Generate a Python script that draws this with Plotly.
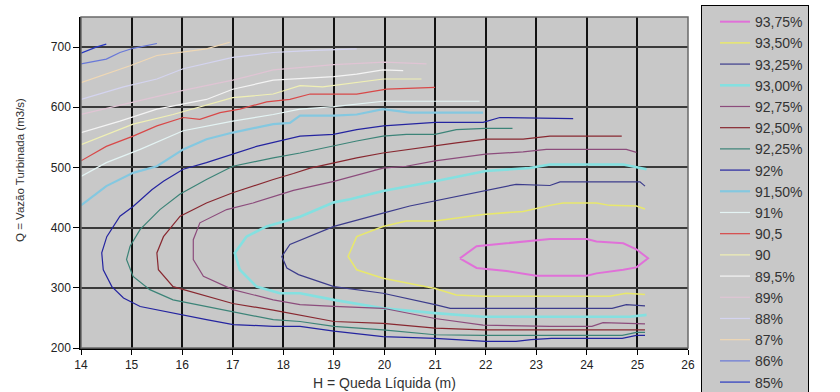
import plotly.graph_objects as go

# ---------------- data ----------------
levels = ["93,75%", "93,50%", "93,25%", "93,00%", "92,75%", "92,50%", "92,25%", "92%",
          "91,50%", "91%", "90,5", "90", "89,5%", "89%", "88%", "87%", "86%", "85%"]

h_9375 = [21.49, 21.82, 22.41, 23.27, 24.0, 24.19, 24.72, 24.98, 25.21, 24.98, 24.72, 24.19, 24.0, 23.0, 22.41, 21.82, 21.49]
q_9375 = [349, 369, 374, 381, 381, 377, 374, 364, 349, 334, 330, 324, 320, 320, 328, 333, 349]

h_9350 = [25.15, 24.98, 24.45, 24.19, 23.53, 23.27, 22.74, 21.95, 21.0, 20.43, 19.97, 19.45, 19.28, 19.45, 19.97, 21.0, 21.42, 21.95, 24.45, 24.78, 25.15]
q_9350 = [431, 436, 437, 441, 441, 437, 427, 422, 411, 411, 402, 385, 352, 330, 316, 299, 288, 286, 286, 291, 289]

h_9325 = [25.15, 25.05, 23.47, 23.27, 22.6, 21.95, 21.1, 20.5, 19.97, 19.0, 18.13, 17.97, 18.07, 18.3, 19.0, 19.97, 21.0, 21.3, 24.5, 24.78, 25.15]
q_9325 = [469, 476, 476, 470, 472, 461, 447, 436, 424, 402, 372, 352, 333, 322, 302, 291, 272, 266, 266, 272, 270]

h_9300 = [25.18, 24.72, 23.27, 22.87, 22.0, 21.0, 19.97, 19.32, 19.0, 18.33, 17.67, 17.27, 17.04, 17.14, 17.47, 17.93, 18.33, 19.0, 19.97, 21.0, 21.95, 24.85, 25.18]
q_9300 = [497, 505, 505, 499, 494, 477, 461, 447, 442, 418, 402, 385, 358, 330, 302, 291, 291, 280, 266, 258, 252, 252, 255]

h_9275 = [24.98, 24.78, 23.2, 22.74, 22.0, 21.0, 20.43, 19.97, 19.0, 18.2, 17.4, 16.88, 16.35, 16.22, 16.22, 16.42, 17.0, 17.8, 18.33, 19.0, 19.97, 21.0, 21.95, 23.27, 24.1, 24.32, 25.15]
q_9275 = [525, 530, 530, 526, 522, 511, 502, 499, 477, 462, 441, 430, 408, 380, 347, 319, 297, 280, 272, 269, 266, 249, 238, 236, 236, 242, 240]

h_9250 = [24.69, 23.27, 22.74, 22.0, 21.42, 21.0, 19.97, 19.45, 19.0, 18.53, 18.2, 17.8, 17.0, 16.68, 16.48, 15.96, 15.63, 15.5, 15.53, 15.82, 16.48, 17.0, 17.8, 18.2, 19.0, 19.97, 21.0, 21.95, 25.15]
q_9250 = [552, 552, 547, 547, 541, 536, 524, 516, 508, 499, 490, 480, 458, 447, 441, 419, 385, 358, 330, 302, 286, 274, 263, 257, 244, 241, 233, 230, 230]

h_9225 = [22.53, 22.0, 21.42, 21.0, 20.43, 19.97, 19.45, 19.0, 18.33, 17.8, 17.0, 16.48, 15.96, 15.56, 15.17, 14.97, 14.9, 15.03, 15.36, 15.82, 16.48, 17.0, 17.8, 18.33, 19.0, 19.97, 21.0, 21.95, 24.7, 24.98, 25.15]
q_9225 = [565, 565, 563, 555, 555, 552, 544, 536, 524, 516, 502, 480, 456, 430, 397, 369, 347, 319, 297, 280, 269, 261, 247, 244, 236, 230, 222, 221, 221, 226, 226]

h_9200 = [23.73, 22.28, 21.95, 21.0, 19.98, 19.45, 18.99, 18.33, 17.47, 17.01, 16.48, 16.02, 15.63, 15.4, 15.03, 14.77, 14.51, 14.41, 14.44, 14.61, 14.84, 15.17, 15.96, 16.48, 17.01, 17.8, 18.33, 19.0, 19.97, 21.0, 22.0, 22.6, 22.9, 23.3, 24.7, 24.98, 25.15]
q_9200 = [581, 583, 575, 575, 569, 563, 555, 552, 535, 522, 508, 497, 477, 463, 435, 419, 385, 358, 330, 302, 283, 269, 255, 247, 239, 236, 236, 228, 219, 216, 211, 211, 214, 216, 216, 221, 221]

h_9150 = [14.0, 14.4, 14.5, 15.03, 15.5, 16.02, 16.48, 17.0, 17.8, 18.13, 18.33, 19.0, 19.45, 19.97, 20.5, 21.95]
q_9150 = [437, 463, 469, 491, 502, 530, 547, 558, 572, 574, 586, 586, 588, 597, 591, 591]

h_9100 = [14.0, 14.5, 15.17, 16.02, 17.0, 17.8, 18.33, 19.0, 19.97, 21.88]
q_9100 = [485, 508, 530, 561, 577, 588, 597, 601, 610, 610]

h_9050 = [14.0, 14.5, 15.03, 15.5, 16.02, 16.35, 16.75, 17.14, 17.67, 18.13, 18.53, 19.45, 20.04, 21.0]
q_9050 = [511, 535, 552, 569, 583, 580, 591, 597, 609, 613, 622, 622, 630, 633]

h_9000 = [14.0, 14.5, 15.03, 15.82, 17.0, 17.8, 18.33, 18.78, 19.45, 19.98, 20.73]
q_9000 = [538, 555, 572, 588, 616, 622, 636, 634, 641, 647, 647]

h_8950 = [14.0, 14.77, 15.5, 16.48, 17.0, 17.8, 19.0, 19.45, 19.97, 20.37]
q_8950 = [558, 577, 597, 613, 630, 645, 651, 655, 662, 661]

h_8900 = [14.0, 14.84, 16.02, 17.0, 17.8, 19.0, 20.0, 20.83]
q_8900 = [588, 605, 628, 645, 662, 671, 675, 672]

h_8800 = [14.0, 14.84, 15.5, 16.02, 17.0, 17.8, 18.5, 19.45]
q_8800 = [613, 634, 647, 664, 683, 691, 694, 697]

h_8700 = [14.0, 14.5, 14.97, 15.5, 15.96, 16.48, 16.94]
q_8700 = [641, 655, 669, 686, 691, 697, 708]

h_8600 = [14.0, 14.5, 14.77, 15.03, 15.5]
q_8600 = [672, 680, 691, 698, 706]

h_8500 = [14.0, 14.3, 14.5]
q_8500 = [690, 700, 705]

x_ticks = [14, 15, 16, 17, 18, 19, 20, 21, 22, 23, 24, 25, 26]
y_ticks = [200, 300, 400, 500, 600, 700]

# ---------------- styling ----------------
series = [
    (h_9375, q_9375, "#e070d8", 2.0),
    (h_9350, q_9350, "#e8e86c", 1.5),
    (h_9325, q_9325, "#3c3c8c", 1.2),
    (h_9300, q_9300, "#84e0e0", 2.6),
    (h_9275, q_9275, "#8c4c7c", 1.2),
    (h_9250, q_9250, "#882830", 1.2),
    (h_9225, q_9225, "#3c8478", 1.2),
    (h_9200, q_9200, "#2424a0", 1.2),
    (h_9150, q_9150, "#84c8e0", 2.2),
    (h_9100, q_9100, "#e4f4f4", 1.2),
    (h_9050, q_9050, "#d84848", 1.2),
    (h_9000, q_9000, "#f0f0b4", 1.2),
    (h_8950, q_8950, "#f4f4f4", 1.2),
    (h_8900, q_8900, "#e0c4d4", 1.2),
    (h_8800, q_8800, "#d4d4f0", 1.2),
    (h_8700, q_8700, "#f0d8b4", 1.2),
    (h_8600, q_8600, "#6878d8", 1.2),
    (h_8500, q_8500, "#2838c0", 1.2),
]

FONT = "Arial, Liberation Sans, sans-serif"

fig = go.Figure()
for name, (hs, qs, col, w) in zip(levels, series):
    fig.add_trace(go.Scatter(x=hs, y=qs, mode="lines", name=name,
                             line=dict(color=col, width=w), hoverinfo="skip"))

fig.update_layout(
    width=840, height=392,
    margin=dict(l=81, r=152, t=17, b=44, autoexpand=False),
    paper_bgcolor="white",
    plot_bgcolor="#c8c8c8",
    font=dict(family=FONT, color="#222222", size=12),
    showlegend=True,
    legend=dict(
        x=1.0214, xanchor="left", y=1.036, yanchor="top",
        bgcolor="#c8c8c8", bordercolor="#000000", borderwidth=1,
        font=dict(family=FONT, size=14, color="#333333"),
        indentation=13, itemwidth=30, maxheight=1000,
        entrywidth=140, entrywidthmode="pixels",
    ),
    annotations=[
        dict(text="H = Queda Líquida (m)", x=0.5, y=-0.1057, xref="paper", yref="paper",
             xanchor="center", yanchor="middle", showarrow=False,
             font=dict(family=FONT, size=14, color="#333333")),
        dict(text="Q = Vazão Turbinada (m3/s)", x=-0.1005, y=0.5378, xref="paper", yref="paper",
             xanchor="center", yanchor="middle", showarrow=False, textangle=-90,
             font=dict(family=FONT, size=11.5, color="#333333")),
    ],
)

fig.update_xaxes(
    range=[14, 26], tickvals=x_ticks, ticktext=[str(v) for v in x_ticks],
    showgrid=True, gridcolor="#111111", gridwidth=1.5,
    showline=True, linecolor="#000000", linewidth=1.5, mirror=False,
    ticks="outside", ticklen=5, tickcolor="#000000",
    tickfont=dict(family=FONT, size=12, color="#222222"),
    zeroline=False,
)
fig.update_yaxes(
    range=[200, 750], tickvals=y_ticks, ticktext=[str(v) for v in y_ticks],
    showgrid=True, gridcolor="#3a3a3a", gridwidth=1.6,
    showline=True, linecolor="#000000", linewidth=1.5, mirror=False,
    ticks="outside", ticklen=6, tickcolor="#000000",
    tickfont=dict(family=FONT, size=12, color="#222222"),
    zeroline=False,
)

# plot frame (top / right border)
fig.add_shape(type="rect", xref="paper", yref="paper", x0=0, x1=1, y0=0, y1=1,
              line=dict(color="#6a6a6a", width=1.5), layer="above")

fig.write_html("out.html")
